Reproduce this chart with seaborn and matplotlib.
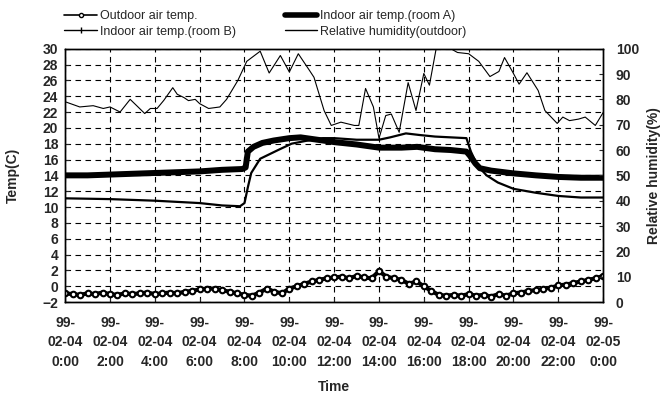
import numpy as np
import seaborn as sns
from matplotlib import pyplot as plt
from matplotlib.lines import Line2D

# hours since 99-02-04 0:00
tick_hours = [0, 2, 4, 6, 8, 10, 12, 14, 16, 18, 20, 22, 24]
tick_labels = ["99-\n02-04\n0:00", "99-\n02-04\n2:00", "99-\n02-04\n4:00", "99-\n02-04\n6:00",
               "99-\n02-04\n8:00", "99-\n02-04\n10:00", "99-\n02-04\n12:00", "99-\n02-04\n14:00",
               "99-\n02-04\n16:00", "99-\n02-04\n18:00", "99-\n02-04\n20:00", "99-\n02-04\n22:00",
               "99-\n02-05\n0:00"]

# outdoor air temp, every 20 minutes
outdoor_hours = np.arange(0, 24.01, 1 / 3)
outdoor_temp = [-0.9, -1.0, -1.1, -0.9, -1.0, -0.8, -1.0, -1.1, -0.9, -1.0, -0.9, -0.8,
                -1.0, -0.9, -0.8, -0.9, -0.7, -0.6, -0.4, -0.3, -0.3, -0.5, -0.7, -0.9,
                -1.1, -1.2, -0.8, -0.3, -0.7, -0.9, -0.3, 0.0, 0.3, 0.6, 0.8, 1.0,
                1.1, 1.2, 1.0, 1.3, 1.1, 1.0, 1.9, 1.2, 1.0, 0.8, 0.3, 0.6,
                0.0, -0.6, -1.1, -1.2, -1.1, -1.2, -1.0, -1.2, -1.1, -1.3, -1.0, -1.2,
                -0.9, -0.8, -0.6, -0.5, -0.3, -0.2, 0.1, 0.2, 0.4, 0.6, 0.8, 1.0, 1.3]

room_a_hours = [0, 1, 2, 3, 4, 5, 6, 7, 7.9, 8.05, 8.15, 8.4, 8.8, 9.3, 10, 10.5, 11, 12, 13, 14,
                15, 15.7, 16.5, 17.2, 17.9, 18.05, 18.3, 18.5, 19, 20, 21, 22, 23, 24]
room_a_temp = [14.0, 14.0, 14.1, 14.2, 14.3, 14.4, 14.5, 14.7, 14.8, 15.0, 17.0, 17.6, 18.1, 18.4,
               18.7, 18.8, 18.6, 18.2, 17.9, 17.5, 17.5, 17.6, 17.3, 17.2, 17.0, 16.5, 15.5, 14.9,
               14.6, 14.25, 14.0, 13.8, 13.7, 13.7]

room_b_hours = [0, 2, 4, 6, 7, 7.8, 8.0, 8.15, 8.3, 8.7, 9.5, 10.1, 11, 11.5, 12, 13, 14, 14.5,
                15.2, 15.8, 16.5, 17.2, 17.9, 18.1, 18.4, 18.8, 19.3, 20, 21, 22, 23, 24]
room_b_temp = [11.1, 11.0, 10.8, 10.5, 10.2, 10.1, 10.5, 12.5, 14.3, 16.1, 17.2, 18.0, 18.5, 18.7,
               18.7, 18.5, 18.5, 18.8, 19.3, 19.1, 18.9, 18.8, 18.7, 17.0, 15.2, 14.0, 13.1, 12.3,
               11.8, 11.4, 11.2, 11.2]

rh_hours = [0.05, 0.65, 1.25, 1.7, 2.0, 2.45, 2.9, 3.25, 3.55, 3.8, 4.1, 4.4, 4.8, 5.0, 5.3, 5.5,
            5.8, 6.0, 6.4, 6.9, 7.2, 7.7, 8.1, 8.4, 8.7, 9.1, 9.6, 10.0, 10.4, 10.9, 11.1, 11.55,
            11.87, 12.3, 12.9, 13.1, 13.4, 13.75, 14.0, 14.3, 14.55, 14.9, 15.3, 15.65, 16.0,
            16.25, 16.55, 17.2, 17.5, 18.0, 18.45, 18.95, 19.35, 19.6, 19.95, 20.25, 20.6, 21.1,
            21.4, 21.95, 22.2, 22.5, 22.9, 23.2, 23.65, 24.0]
rh_values = [78.9, 77.0, 77.5, 76.4, 77.0, 75.0, 80.0, 77.0, 74.4, 76.4, 76.4, 79.6, 84.6, 82.0,
             80.7, 79.5, 80.0, 78.3, 76.4, 77.0, 80.0, 87.4, 95.0, 97.0, 99.0, 90.4, 97.3, 90.8,
             98.0, 91.4, 88.7, 75.6, 69.7, 71.0, 69.7, 69.7, 84.3, 77.0, 64.6, 73.6, 74.2, 67.0,
             86.6, 75.6, 90.2, 85.6, 100.0, 100.0, 98.5, 98.0, 95.0, 89.0, 91.0, 96.5, 91.0, 86.0,
             90.5, 83.5, 75.6, 70.5, 73.0, 71.6, 72.2, 73.0, 69.7, 74.8]

sns.set_style("ticks")
plt.rcParams["font.family"] = ["Liberation Sans", "DejaVu Sans"]
plt.rcParams["font.weight"] = "bold"
plt.rcParams["axes.labelweight"] = "bold"
plt.rcParams["font.size"] = 10

fig, ax = plt.subplots(figsize=(6.65, 3.99), dpi=100)
fig.subplots_adjust(left=0.098, right=0.907, top=0.878, bottom=0.243)
ax2 = ax.twinx()

sns.lineplot(x=room_a_hours, y=room_a_temp, ax=ax, color="black", linewidth=4.3, legend=False)
sns.lineplot(x=room_b_hours, y=room_b_temp, ax=ax, color="black", linewidth=1.6, legend=False)
sns.lineplot(x=outdoor_hours, y=outdoor_temp, ax=ax, color="black", linewidth=3,
             marker="o", markersize=4, markerfacecolor="white", markeredgecolor="black",
             markeredgewidth=1.5, legend=False)
sns.lineplot(x=rh_hours, y=rh_values, ax=ax2, color="black", linewidth=0.8, legend=False)

ax.set_xlim(0, 24)
ax.set_ylim(-2, 30)
ax2.set_ylim(0, 100)
ax.set_xticks(tick_hours)
ax.set_xticklabels(tick_labels, linespacing=1.5)
ax.set_yticks(range(-2, 31, 2))
ax2.set_yticks(range(0, 101, 10))

ax.grid(True, color="black", linestyle=(0, (5, 4)), linewidth=0.8)
ax.set_axisbelow(True)
ax.tick_params(direction="in", length=3, pad=5)
ax.tick_params(axis="x", pad=10)
ax2.tick_params(direction="in", length=3, pad=9)
for sp in list(ax.spines.values()) + list(ax2.spines.values()):
    sp.set_color("black")
    sp.set_linewidth(1)

ax.set_xlabel("Time", labelpad=8)
ax.set_ylabel("Temp(C)", labelpad=16)
ax2.set_ylabel("Relative humidity(%)", labelpad=6)

handles = [
    Line2D([], [], color="black", lw=1.2, marker="o", ms=3, mfc="white"),
    Line2D([], [], color="black", lw=1.0, marker="|", ms=4),
    Line2D([], [], color="black", lw=4),
    Line2D([], [], color="black", lw=1.0),
]
labels = ["Outdoor air temp.", "Indoor air temp.(room B)",
          "Indoor air temp.(room A)", "Relative humidity(outdoor)"]
fig.legend(handles, labels, ncol=2, loc="upper left", bbox_to_anchor=(0.08, 1.003),
           frameon=False, handlelength=2.6, handletextpad=0.25, columnspacing=3.9,
           labelspacing=0.3, prop={"weight": "normal", "size": 9})

fig.savefig("out.png", dpi=100)
